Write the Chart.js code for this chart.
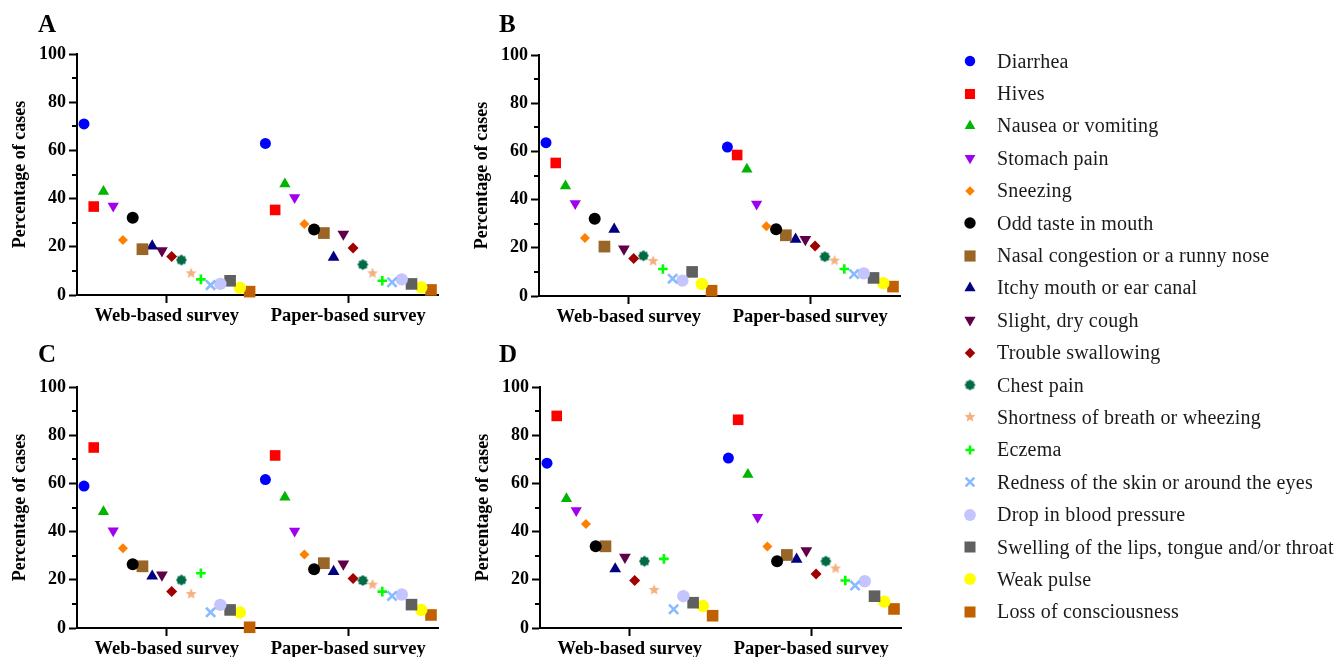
<!DOCTYPE html>
<html>
<head>
<meta charset="utf-8">
<script src="https://cdn.jsdelivr.net/npm/chart.js@4.4.1/dist/chart.umd.min.js"></script>
<style>
  body { margin: 0; background: #fff; width: 1335px; height: 657px; position: relative; overflow: hidden;
         font-family: 'Liberation Serif', 'Times New Roman', serif; }
  .panel { position: absolute; }
  .tag { position: absolute; font-weight: bold; font-size: 25px; line-height: 25px; color: #000; }
  #legend { position: absolute; left: 960px; top: 45px; }
  .row { height: 32.4px; display: flex; align-items: center; font-size: 20px; letter-spacing: 0.2px; color: #1a1a1a; white-space: nowrap; }
  .row canvas { width: 20px; height: 20px; margin-right: 17px; }
</style>
</head>
<body>
<canvas class="panel" id="chartA" width="460" height="330" style="left:0;top:0"></canvas>
<canvas class="panel" id="chartB" width="460" height="330" style="left:462px;top:1px"></canvas>
<canvas class="panel" id="chartC" width="460" height="330" style="left:0;top:333px"></canvas>
<canvas class="panel" id="chartD" width="460" height="330" style="left:463px;top:333px"></canvas>
<div class="tag" style="left:38px;top:11px">A</div>
<div class="tag" style="left:499px;top:11px">B</div>
<div class="tag" style="left:38px;top:341px">C</div>
<div class="tag" style="left:499px;top:341px">D</div>
<div id="legend"></div>
<script>
// categories
const symptoms = ['Diarrhea', 'Hives', 'Nausea or vomiting', 'Stomach pain', 'Sneezing', 'Odd taste in mouth',
  'Nasal congestion or a runny nose', 'Itchy mouth or ear canal', 'Slight, dry cough', 'Trouble swallowing',
  'Chest pain', 'Shortness of breath or wheezing', 'Eczema', 'Redness of the skin or around the eyes',
  'Drop in blood pressure', 'Swelling of the lips, tongue and/or throat', 'Weak pulse', 'Loss of consciousness'];
const surveys = ['Web-based survey', 'Paper-based survey'];
const yTicks = [0, 20, 40, 60, 80, 100];

// percentage of cases, one value per symptom
const webA   = [71.0, 36.7, 42.9, 36.9, 22.8, 32.1, 19.0, 20.3, 18.4, 16.0, 14.5, 9.0, 6.5, 4.1, 4.6, 5.9, 3.0, 1.4];
const paperA = [62.9, 35.3, 46.1, 40.5, 29.5, 27.2, 25.7, 15.6, 25.3, 19.5, 12.6, 9.0, 5.9, 5.3, 6.5, 4.6, 3.2, 2.1];
const webB   = [63.6, 55.2, 45.6, 38.4, 24.1, 32.1, 20.5, 27.7, 19.5, 15.6, 16.7, 14.5, 11.2, 7.2, 6.4, 10.0, 5.0, 2.2];
const paperB = [61.8, 58.5, 52.6, 38.2, 28.9, 27.7, 25.2, 23.5, 23.5, 20.7, 16.3, 14.7, 11.2, 9.1, 9.4, 7.5, 5.3, 3.9];
const webC   = [58.9, 74.9, 48.2, 40.4, 33.1, 26.5, 25.6, 21.5, 22.0, 15.1, 19.9, 14.1, 22.7, 6.5, 9.6, 7.5, 6.5, 0.3];
const paperC = [61.6, 71.6, 54.3, 40.2, 30.5, 24.4, 26.9, 23.4, 26.6, 20.5, 19.7, 18.0, 15.1, 13.3, 13.9, 9.7, 7.5, 5.4];
const webD   = [68.4, 88.0, 53.6, 48.8, 43.2, 33.9, 33.9, 24.5, 29.4, 19.7, 27.7, 15.8, 28.7, 7.8, 13.2, 10.5, 9.1, 5.1];
const paperD = [70.5, 86.4, 63.7, 46.0, 33.8, 27.7, 30.3, 28.5, 32.1, 22.4, 27.7, 24.7, 19.7, 17.6, 19.4, 13.2, 10.9, 7.9];

// marker look for each symptom
const colors = ['#0000FF', '#FF0000', '#00B400', '#A000EE', '#FF8000', '#000000', '#996628', '#000080', '#600048',
  '#A00000', '#006B45', '#F5B080', '#00FF00', '#88BBFF', '#C4C4FF', '#606060', '#FFFF00', '#C06000'];

function starImage(color, r) {
  const c = document.createElement('canvas');
  c.width = c.height = Math.ceil(r * 2) + 2;
  const g = c.getContext('2d');
  g.fillStyle = color;
  g.beginPath();
  for (let k = 0; k < 10; k++) {
    const a = -Math.PI / 2 + k * Math.PI / 5;
    const rr = k % 2 ? r * 0.45 : r;
    g.lineTo(c.width / 2 + rr * Math.cos(a), c.height / 2 + rr * Math.sin(a));
  }
  g.closePath();
  g.fill();
  return c;
}

function cogImage(color, r) {
  const c = document.createElement('canvas');
  c.width = c.height = Math.ceil(r * 2) + 2;
  const g = c.getContext('2d');
  const m = c.width / 2;
  g.fillStyle = color;
  g.beginPath();
  g.arc(m, m, r * 0.78, 0, Math.PI * 2);
  g.fill();
  for (let k = 0; k < 8; k++) {
    const a = k * Math.PI / 4;
    g.beginPath();
    g.arc(m + Math.cos(a) * r * 0.72, m + Math.sin(a) * r * 0.72, r * 0.28, 0, Math.PI * 2);
    g.fill();
  }
  return c;
}

const pointStyles = ['circle', 'rect', 'triangle', 'triangle', 'rectRot', 'circle', 'rect', 'triangle', 'triangle',
  'rectRot', cogImage(colors[10], 5.2), starImage(colors[11], 5.8), 'cross', 'crossRot', 'circle', 'rect', 'circle', 'rect'];
const rotations = [0, 0, 0, 180, 0, 0, 0, 0, 180, 0, 0, 0, 0, 0, 0, 0, 0, 0];
const radii = [5.5, 7.5, 6.5, 6.5, 5, 6, 8.3, 6.8, 6.8, 5.5, 5, 5, 4.8, 6.5, 6.2, 8.2, 6.2, 8.2];
const lineWidths = [0, 0, 0, 0, 0, 0, 0, 0, 0, 0, 0, 0, 2.6, 2.6, 0, 0, 0, 0];

const groupPos = [1, 2];
const dodge = 0.0537;
const serif = "'Liberation Serif', 'Times New Roman', serif";

const minorTicks = {
  id: 'minorTicks',
  afterDraw(chart) {
    const ys = chart.scales.y, ctx = chart.ctx, left = chart.chartArea.left;
    ctx.save();
    ctx.strokeStyle = '#000';
    ctx.lineWidth = 2;
    for (let v = 10; v < 100; v += 20) {
      const py = Math.round(ys.getPixelForValue(v));
      ctx.beginPath();
      ctx.moveTo(left - 5, py);
      ctx.lineTo(left, py);
      ctx.stroke();
    }
    ctx.restore();
  }
};

function makePanel(id, web, paper) {
  const datasets = symptoms.map((name, i) => ({
    label: name,
    data: [
      { x: groupPos[0] + (i - 8.5) * dodge, y: web[i] },
      { x: groupPos[1] + (i - 8.5) * dodge, y: paper[i] }
    ],
    showLine: false,
    pointStyle: pointStyles[i],
    pointRotation: rotations[i],
    pointRadius: radii[i],
    pointHoverRadius: radii[i],
    backgroundColor: colors[i],
    borderColor: colors[i],
    borderWidth: lineWidths[i],
    clip: false
  }));

  new Chart(document.getElementById(id), {
    type: 'scatter',
    data: { datasets },
    plugins: [minorTicks],
    options: {
      responsive: false,
      animation: false,
      layout: { padding: { top: 54, right: 22, left: 0, bottom: 0 } },
      plugins: { legend: { display: false }, tooltip: { enabled: false } },
      scales: {
        x: {
          type: 'linear',
          min: 0.505,
          max: 2.495,
          afterBuildTicks: s => { s.ticks = groupPos.map(v => ({ value: v })); },
          afterFit: s => { s.height = 35; },
          ticks: {
            callback: (v) => surveys[groupPos.indexOf(v)],
            font: { family: serif, size: 18.5, weight: 'bold' },
            color: '#000',
            padding: 2,
            maxRotation: 0
          },
          grid: { drawOnChartArea: false, tickLength: 8, tickWidth: 2, tickColor: '#000' },
          border: { color: '#000', width: 2 }
        },
        y: {
          min: 0,
          max: 100,
          afterBuildTicks: s => { s.ticks = yTicks.map(v => ({ value: v })); },
          afterFit: s => { s.width = 77; },
          ticks: {
            font: { family: serif, size: 18, weight: 'bold' },
            color: '#000',
            padding: 3
          },
          grid: { drawOnChartArea: false, tickLength: 8, tickWidth: 2, tickColor: '#000' },
          border: { color: '#000', width: 2 },
          title: {
            display: true,
            text: 'Percentage of cases',
            font: { family: serif, size: 18, weight: 'bold' },
            color: '#000',
            padding: { top: 10, bottom: 0 }
          }
        }
      }
    }
  });
}

makePanel('chartA', webA, paperA);
makePanel('chartB', webB, paperB);
makePanel('chartC', webC, paperC);
makePanel('chartD', webD, paperD);

// legend on the right
const legend = document.getElementById('legend');
symptoms.forEach((name, i) => {
  const row = document.createElement('div');
  row.className = 'row';
  const c = document.createElement('canvas');
  c.width = 20; c.height = 20;
  const g = c.getContext('2d');
  g.fillStyle = colors[i];
  g.strokeStyle = colors[i];
  g.lineWidth = lineWidths[i];
  Chart.helpers.drawPoint(g, {
    pointStyle: pointStyles[i],
    rotation: rotations[i],
    radius: radii[i] * 0.95,
    borderWidth: lineWidths[i]
  }, 10, 10);
  const label = document.createElement('span');
  label.textContent = name;
  row.appendChild(c);
  row.appendChild(label);
  legend.appendChild(row);
});
</script>
</body>
</html>
